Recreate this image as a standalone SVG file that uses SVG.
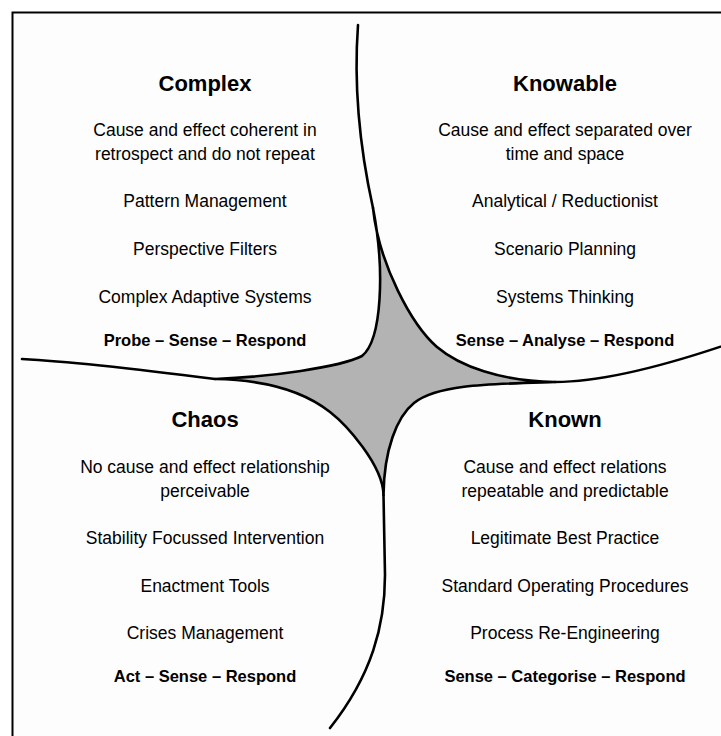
<svg xmlns="http://www.w3.org/2000/svg" width="721" height="736" viewBox="0 0 721 736">
<style>
  .frame { fill: #fdfdfd; stroke: #000; stroke-width: 2; }
  .curve { fill: none; stroke: #000; stroke-width: 2.6; stroke-linecap: round; stroke-linejoin: round; }
  .star { fill: #b3b3b3; stroke: #000; stroke-width: 2.6; stroke-linejoin: round; }
  text { font-family: "Liberation Sans", Arial, sans-serif; fill: #000; text-anchor: middle; }
  .title { font-size: 22px; font-weight: bold; }
  .body { font-size: 17.5px; }
  .act { font-size: 16.5px; font-weight: bold; }
</style>
<rect x="0" y="0" width="721" height="736" fill="#ffffff"/>
<rect class="frame" x="12.5" y="12.5" width="740" height="760"/>

<g id="boundaries">
  <path class="star" d="M373,208 C379,265 412,325 436.7,346.7 C459.5,366.1 500,381 555,382 C490,384 437.4,384.25 414,403 C396.8,416.75 384,450 383.5,495 C383,465 345.8,424.2 330,412 C306,393 270,380 215,379 C270,377 339.65,367.2 362,356 C382,340 385,270 373,208 Z"/>
  <path class="curve" d="M358,25 C354,80 358,140 373,208"/>
  <path class="curve" d="M383.5,495 L385,575 C385,625 372,675 330,728"/>
  <path class="curve" d="M22,359 C80,362 160,372 215,379"/>
  <path class="curve" d="M555,382 C600,382 660,368 740,340"/>
</g>

<g id="complex">
  <text class="title" x="205" y="91">Complex</text>
  <text class="body" x="205" y="136">Cause and effect coherent in</text>
  <text class="body" x="205" y="160">retrospect and do not repeat</text>
  <text class="body" x="205" y="207">Pattern Management</text>
  <text class="body" x="205" y="255">Perspective Filters</text>
  <text class="body" x="205" y="303">Complex Adaptive Systems</text>
  <text class="act" x="205" y="346">Probe – Sense – Respond</text>
</g>

<g id="knowable">
  <text class="title" x="565" y="91">Knowable</text>
  <text class="body" x="565" y="136">Cause and effect separated over</text>
  <text class="body" x="565" y="160">time and space</text>
  <text class="body" x="565" y="207">Analytical / Reductionist</text>
  <text class="body" x="565" y="255">Scenario Planning</text>
  <text class="body" x="565" y="303">Systems Thinking</text>
  <text class="act" x="565" y="346">Sense – Analyse – Respond</text>
</g>

<g id="chaos">
  <text class="title" x="205" y="427">Chaos</text>
  <text class="body" x="205" y="473">No cause and effect relationship</text>
  <text class="body" x="205" y="497">perceivable</text>
  <text class="body" x="205" y="544">Stability Focussed Intervention</text>
  <text class="body" x="205" y="592">Enactment Tools</text>
  <text class="body" x="205" y="639">Crises Management</text>
  <text class="act" x="205" y="682">Act – Sense – Respond</text>
</g>

<g id="known">
  <text class="title" x="565" y="427">Known</text>
  <text class="body" x="565" y="473">Cause and effect relations</text>
  <text class="body" x="565" y="497">repeatable and predictable</text>
  <text class="body" x="565" y="544">Legitimate Best Practice</text>
  <text class="body" x="565" y="592">Standard Operating Procedures</text>
  <text class="body" x="565" y="639">Process Re-Engineering</text>
  <text class="act" x="565" y="682">Sense – Categorise – Respond</text>
</g>
</svg>
